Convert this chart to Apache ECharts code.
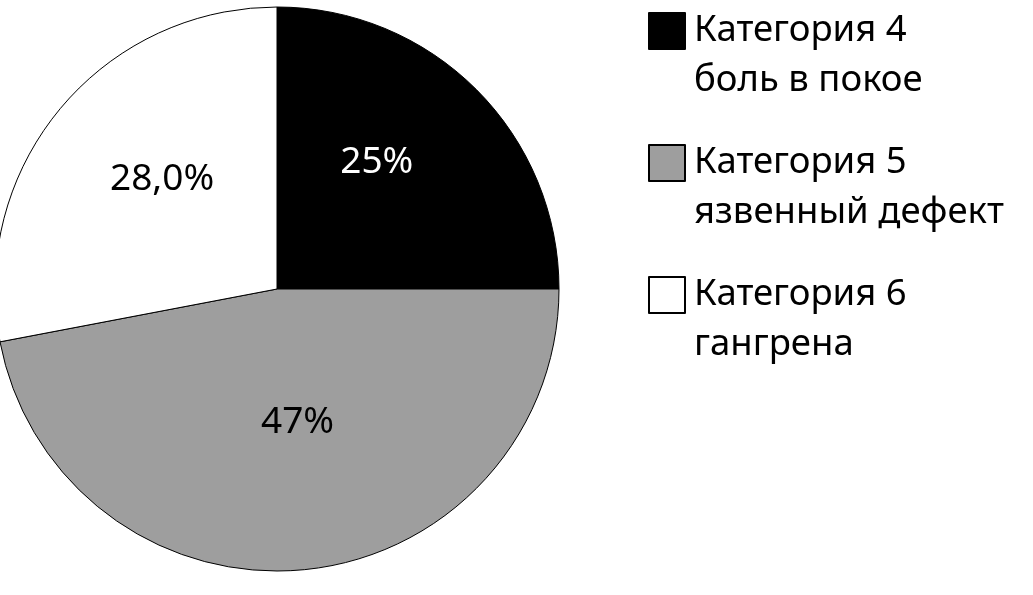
<!DOCTYPE html>
<html>
<head>
<meta charset="utf-8">
<script src="https://cdn.jsdelivr.net/npm/echarts@6/dist/echarts.min.js"></script>
<style>
html,body{margin:0;padding:0;background:#fff;}
#chart{width:1033px;height:595px;}
</style>
</head>
<body>
<div id="chart"></div>
<script>
var categories = ['Категория 4\nболь в покое', 'Категория 5\nязвенный дефект', 'Категория 6\nгангрена'];
var values = [25, 47, 28];
var valueLabels = ['25%', '47%', '28,0%'];
var sliceColors = ['#000000', '#9e9e9e', '#ffffff'];
var labelColors = ['#ffffff', '#000000', '#000000'];
var labelOffsets = [[-2, -25], [7, -10], [-4, -18]];

var FONT = '"Noto Sans", "Open Sans", sans-serif';

var data = categories.map(function (c, i) {
  return {
    name: c,
    value: values[i],
    itemStyle: { color: sliceColors[i] },
    label: { formatter: valueLabels[i], color: labelColors[i], offset: labelOffsets[i] }
  };
});

var chart = echarts.init(document.getElementById('chart'), null, { renderer: 'canvas' });
chart.setOption({
  animation: false,
  backgroundColor: '#ffffff',
  legend: {
    orient: 'vertical',
    left: 643,
    top: -49,
    itemWidth: 36,
    itemHeight: 36,
    itemGap: -18,
    icon: 'rect',
    formatter: function (name) { return '\n' + name; },
    textStyle: {
      fontFamily: FONT,
      fontSize: 36.5,
      lineHeight: 50,
      color: '#000',
      padding: [0, 0, 0, 4]
    },
    data: categories
  },
  series: [{
    type: 'pie',
    center: [277, 289],
    radius: 282,
    startAngle: 90,
    clockwise: true,
    itemStyle: { borderColor: '#000', borderWidth: 1 },
    label: {
      position: 'inside',
      fontFamily: FONT,
      fontSize: 37
    },
    labelLine: { show: false },
    emphasis: { disabled: true },
    data: data
  }]
});
</script>
</body>
</html>
